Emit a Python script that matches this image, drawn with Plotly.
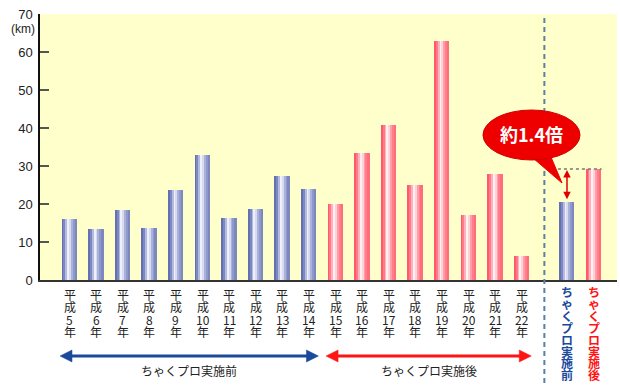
import re
import plotly.graph_objects as go

# ---------------- data ----------------
before_labels = ["平成5年", "平成6年", "平成7年", "平成8年", "平成9年",
                 "平成10年", "平成11年", "平成12年", "平成13年", "平成14年"]
before_values = [16.1, 13.3, 18.3, 13.7, 23.6, 32.8, 16.3, 18.7, 27.4, 23.9]

after_labels = ["平成15年", "平成16年", "平成17年", "平成18年",
                "平成19年", "平成20年", "平成21年", "平成22年"]
after_values = [20.0, 33.4, 40.9, 24.9, 62.9, 17.2, 27.8, 6.4]

compare_labels = ["ちゃくプロ実施前", "ちゃくプロ実施後"]
compare_values = [20.6, 29.2]

period_labels = ["ちゃくプロ実施前", "ちゃくプロ実施後"]
y_ticks = [0, 10, 20, 30, 40, 50, 60, 70]
y_unit = "(km)"

# ---------------- layout constants ----------------
W, H = 620, 385
PX_L, PX_R, PX_T, PX_B = 40, 617, 14, 280
COMPARE_GAP = 0.7
XMIN, XMAX = -1.11, 20.58
BAR_W = 0.56
N_STRIP = 8

BLUE_STRIPS = ["#6470b0", "#7d88c2", "#b3bae0", "#eef0fb", "#d6dbf1",
               "#aab2da", "#8f99ca", "#7e88c0"]
RED_STRIPS = ["#ff5a6c", "#ff7a88", "#ffb2bb", "#fff0f3", "#ffd2d8",
              "#ff9ea8", "#ff7e8a", "#ff6c7b"]
BLUE = "#1a4a9c"
RED = "#ff1414"
BG = "#ffffcc"

n_b, n_a = len(before_values), len(after_values)
pos_before = list(range(n_b))
pos_after = list(range(n_b, n_b + n_a))
pos_cmp = [n_b + n_a + COMPARE_GAP + i for i in range(len(compare_values))]

positions = pos_before + pos_after + pos_cmp
values = before_values + after_values + compare_values
is_blue = [True] * n_b + [False] * n_a + [True, False]


def px2x(px):
    return XMIN + (px - PX_L) / (PX_R - PX_L) * (XMAX - XMIN)


def x2px(x):
    return PX_L + (x - XMIN) / (XMAX - XMIN) * (PX_R - PX_L)


def x2paper(x):
    return (x - XMIN) / (XMAX - XMIN)


def px2paperx(px):
    return (px - PX_L) / (PX_R - PX_L)


def py2paper(py):
    return (PX_B - py) / (PX_B - PX_T)


def py2val(py):
    return (PX_B - py) / (PX_B - PX_T) * 70


fig = go.Figure()

# cylinder-like bars built from vertical strips
sw = BAR_W / N_STRIP
for k in range(N_STRIP):
    colors = [BLUE_STRIPS[k] if b else RED_STRIPS[k] for b in is_blue]
    fig.add_trace(go.Bar(
        x=positions, y=values, width=sw * 1.02, offset=-BAR_W / 2 + k * sw,
        marker=dict(color=colors, line=dict(width=0)),
        showlegend=False, hoverinfo="skip",
    ))

annotations = []
shapes = []

# x labels written vertically, one character (or number) per row
all_labels = before_labels + after_labels
for p, lab in zip(pos_before + pos_after, all_labels):
    tokens = re.findall(r"\d+|\D", lab)
    for i, t in enumerate(tokens):
        annotations.append(dict(
            x=p, xref="x", y=py2paper(294 + 12.6 * i), yref="paper",
            text=t, showarrow=False, xanchor="center", yanchor="middle",
            borderpad=0,
            font=dict(size=12, color="#222",
                      family="Noto Sans CJK JP, Liberation Sans"),
        ))
for p, lab, col in zip(pos_cmp, compare_labels, [BLUE, RED]):
    for i, ch in enumerate(lab):
        annotations.append(dict(
            x=p, xref="x", y=py2paper(292 + 11.8 * i), yref="paper",
            text="<b>%s</b>" % ch, showarrow=False, xanchor="center",
            yanchor="middle", borderpad=0,
            font=dict(size=12, color=col, family="Noto Sans CJK JP"),
        ))

# period arrows
arrow_y = 356
ah_len, ah_half = 12, 6
for grp, col, lab in [(pos_before, BLUE, period_labels[0]),
                      (pos_after, RED, period_labels[1])]:
    px0 = x2px(grp[0]) - 9.5
    px1 = x2px(grp[-1]) + 9.5
    yc = py2paper(arrow_y)
    shapes.append(dict(type="line", xref="paper", yref="paper",
                       x0=px2paperx(px0 + ah_len - 1), x1=px2paperx(px1 - ah_len + 1),
                       y0=yc, y1=yc, line=dict(color=col, width=3)))
    for tip, base in [(px0, px0 + ah_len), (px1, px1 - ah_len)]:
        path = "M %f,%f L %f,%f L %f,%f Z" % (
            px2paperx(tip), yc,
            px2paperx(base), py2paper(arrow_y - ah_half),
            px2paperx(base), py2paper(arrow_y + ah_half))
        shapes.append(dict(type="path", xref="paper", yref="paper", path=path,
                           fillcolor=col, line=dict(color=col, width=0.5)))
    annotations.append(dict(
        x=px2paperx((px0 + px1) / 2), xref="paper", y=py2paper(370), yref="paper",
        text=lab, showarrow=False, xanchor="center", yanchor="middle",
        font=dict(size=12, color="#222", family="Noto Sans CJK JP"),
    ))

# vertical dashed separator
sep_x = x2paper((pos_after[-1] + pos_cmp[0]) / 2)
shapes.append(dict(type="line", xref="paper", yref="paper",
                   x0=sep_x, x1=sep_x, y0=py2paper(18), y1=py2paper(386),
                   line=dict(color="#5a7fa8", width=2, dash="5px,4px")))

# dotted reference line at the "after" level
shapes.append(dict(type="line", xref="x", yref="y",
                   x0=pos_cmp[0] - 0.34, x1=pos_cmp[1] + 0.3,
                   y0=compare_values[1], y1=compare_values[1],
                   line=dict(color="#777", width=1.5, dash="dot")))

# double-headed red arrow
annotations.append(dict(
    x=pos_cmp[0], y=compare_values[1], xref="x", yref="y",
    ax=pos_cmp[0], ay=compare_values[0], axref="x", ayref="y",
    text="", showarrow=True, arrowside="end+start", arrowhead=2,
    startarrowhead=2, arrowsize=1, startarrowsize=1, arrowwidth=1.5,
    arrowcolor="#e00000", standoff=1, startstandoff=1,
))

# callout bubble
shapes.append(dict(type="path", xref="x", yref="y",
                   path="M %f,%f L %f,%f L %f,%f Z" % (
                       px2x(526), py2val(152), px2x(562), py2val(183),
                       px2x(548), py2val(150)),
                   fillcolor="#ee0000", line=dict(color="#ee0000", width=1)))
shapes.append(dict(type="circle", xref="x", yref="y",
                   x0=px2x(483), x1=px2x(580), y0=py2val(160), y1=py2val(110),
                   fillcolor="#ee0000", line=dict(color="#d00000", width=1)))
ratio = compare_values[1] / compare_values[0]
annotations.append(dict(
    x=px2x(531), y=py2val(134), xref="x", yref="y",
    text="<b>約%.1f倍</b>" % ratio, showarrow=False,
    font=dict(size=18, color="white", family="Noto Sans CJK JP"),
    xanchor="center", yanchor="middle",
))

# unit label
annotations.append(dict(
    x=px2paperx(23), y=py2paper(29), xref="paper", yref="paper",
    text=y_unit, showarrow=False, xanchor="center", yanchor="middle",
    font=dict(size=12, color="#222", family="Liberation Sans"),
))

fig.update_layout(
    width=W, height=H,
    margin=dict(l=PX_L, r=W - PX_R, t=PX_T, b=H - PX_B, pad=0),
    paper_bgcolor="white", plot_bgcolor=BG,
    barmode="overlay", bargap=0,
    shapes=shapes, annotations=annotations,
    showlegend=False,
    xaxis=dict(range=[XMIN, XMAX], showticklabels=False, ticks="",
               showgrid=False, zeroline=False, showline=True,
               linecolor="#333", linewidth=2, fixedrange=True),
    yaxis=dict(range=[0, 70], tickvals=y_ticks, ticks="inside", ticklen=9,
               tickwidth=1.5, tickcolor="#555", showgrid=False,
               zeroline=False, showline=True, linecolor="#111", linewidth=1.5,
               tickfont=dict(size=13, color="#222", family="Liberation Sans"),
               ticklabelstandoff=3, fixedrange=True),
)

fig.write_html("out.html", config={"displayModeBar": False})
